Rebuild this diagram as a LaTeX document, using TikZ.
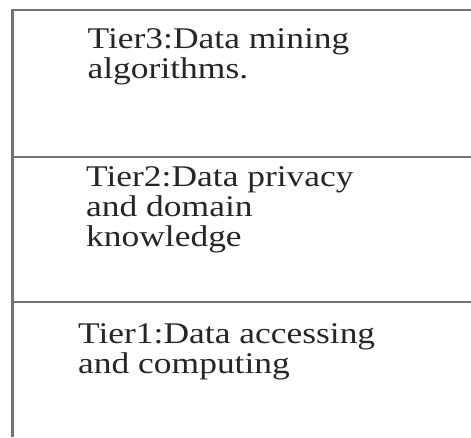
\documentclass[tikz,border=0pt]{standalone}
\usepackage{fontspec}
\setmainfont{Liberation Serif}[FakeStretch=1.18]
\usetikzlibrary{positioning}

\begin{document}
\begin{tikzpicture}[black!55,line width=1.3pt]

\useasboundingbox (0,0) rectangle (9.42,8.74);

% Frame (left side and top)
\draw (0.25,0) -- (0.25,8.54) -- (9.42,8.54);

% Tier separators
\draw (0.25,5.60) -- (9.42,5.60);
\draw (0.25,2.70) -- (9.42,2.70);

% Tier labels (anchored at the baseline of their last line)
\tikzset{tiertext/.style={anchor=base west,inner sep=0pt,align=left,black!85,
    font=\fontsize{17.1}{16.8}\selectfont}}

\node[tiertext] (tier3) at (1.73,7.18) {Tier3:Data mining\\algorithms.};
\node[tiertext] (tier2) at (1.70,3.82) {Tier2:Data privacy\\and domain\\knowledge};
\node[tiertext] (tier1) at (1.54,1.28) {Tier1:Data accessing\\and computing};

\end{tikzpicture}
\end{document}
